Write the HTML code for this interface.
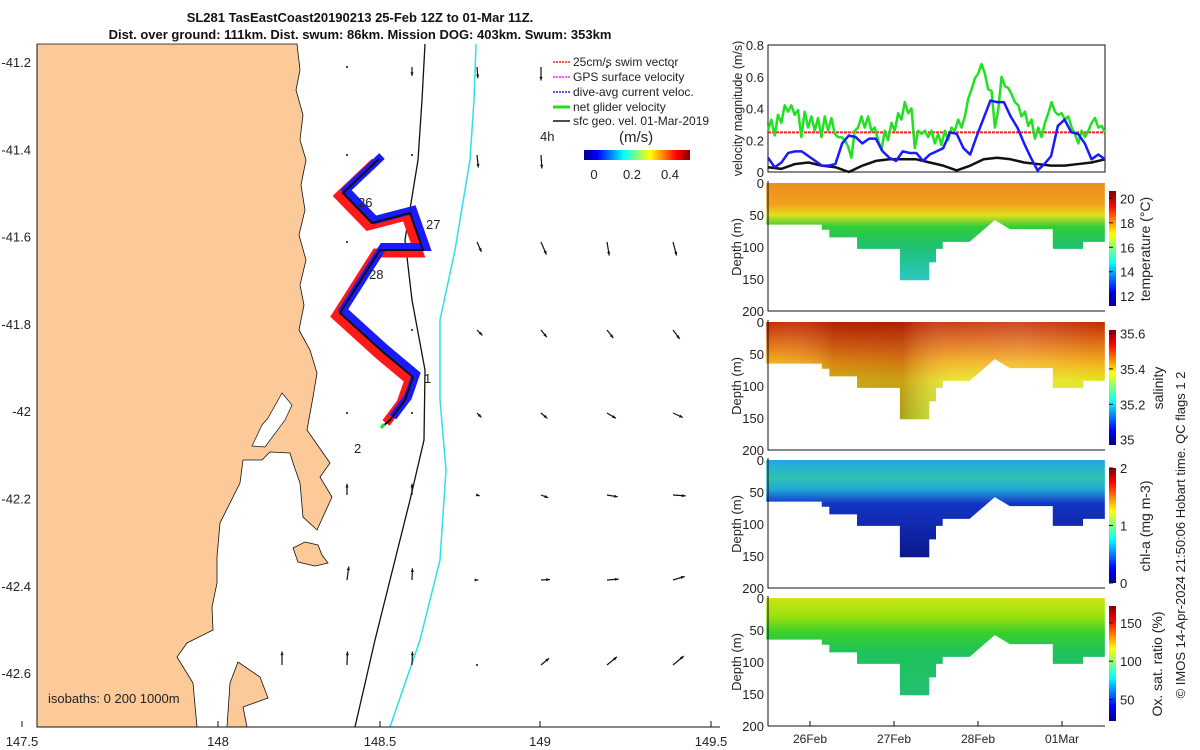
<!DOCTYPE html>
<html><head><meta charset="utf-8"><style>
html,body{margin:0;padding:0;background:#fff;}
svg{display:block;font-family:"Liberation Sans",sans-serif;}
text{font-size:12px;fill:#222;}
</style></head><body>
<svg id="fig" width="1200" height="750" viewBox="0 0 1200 750">
<defs>
<linearGradient id="jetV" x1="0" y1="1" x2="0" y2="0">
<stop offset="0" stop-color="#00008f"/><stop offset="0.125" stop-color="#0000ff"/><stop offset="0.375" stop-color="#00ffff"/><stop offset="0.625" stop-color="#ffff00"/><stop offset="0.875" stop-color="#ff0000"/><stop offset="1" stop-color="#800000"/>
</linearGradient>
<linearGradient id="jetH" x1="0" y1="0" x2="1" y2="0">
<stop offset="0" stop-color="#00008f"/><stop offset="0.125" stop-color="#0000ff"/><stop offset="0.375" stop-color="#00ffff"/><stop offset="0.625" stop-color="#ffff00"/><stop offset="0.875" stop-color="#ff0000"/><stop offset="1" stop-color="#800000"/>
</linearGradient>
<linearGradient id="gTemp" x1="0" y1="0" x2="0" y2="1">
<stop offset="0" stop-color="#ea8d1e"/><stop offset="0.22" stop-color="#f3a21c"/><stop offset="0.33" stop-color="#e3df1c"/><stop offset="0.45" stop-color="#30cc3a"/><stop offset="0.65" stop-color="#1fc070"/><stop offset="1" stop-color="#2cc8c4"/>
</linearGradient>
<linearGradient id="gSal" x1="0" y1="0" x2="0" y2="1">
<stop offset="0" stop-color="#c42a06"/><stop offset="0.25" stop-color="#e27818"/><stop offset="0.42" stop-color="#f3b018"/><stop offset="0.6" stop-color="#e6e41e"/><stop offset="1" stop-color="#bde82a"/>
</linearGradient>
<linearGradient id="gChl" x1="0" y1="0" x2="0" y2="1">
<stop offset="0" stop-color="#1fa6ea"/><stop offset="0.18" stop-color="#2ec4b0"/><stop offset="0.3" stop-color="#24a8d8"/><stop offset="0.45" stop-color="#1434c4"/><stop offset="1" stop-color="#0a188e"/>
</linearGradient>
<linearGradient id="gOxy" x1="0" y1="0" x2="0" y2="1">
<stop offset="0" stop-color="#cbe612"/><stop offset="0.2" stop-color="#96e010"/><stop offset="0.35" stop-color="#3ccf2a"/><stop offset="0.55" stop-color="#1fc35a"/><stop offset="1" stop-color="#20c070"/>
</linearGradient>
<linearGradient id="hvar" x1="0" y1="0" x2="1" y2="0">
<stop offset="0" stop-color="#fff" stop-opacity="0"/><stop offset="0.2" stop-color="#800000" stop-opacity="0.25"/><stop offset="0.4" stop-color="#800000" stop-opacity="0.3"/><stop offset="0.55" stop-color="#fff" stop-opacity="0.1"/><stop offset="0.75" stop-color="#fff" stop-opacity="0.15"/><stop offset="1" stop-color="#fff" stop-opacity="0"/>
</linearGradient>
</defs>

<!-- MAP -->
<g>
<rect x="37" y="44" width="683" height="683" fill="#fff"/>
<path fill="#fbca98" stroke="#111" stroke-width="0.8"
 d="M37,44 L297,44 L300,70 L296,90 L303,115 L300,140 L306,160 L301,185 L305,210 L299,235 L306,260 L300,285 L304,305 L299,330 L310,350 L317,373 L313,397 L307,430 L330,463 L320,477 L332,497 L317,530 L303,517 L300,483 L293,463 L290,453 L270,452 L262,460 L243,460 L240,483 L220,523 L217,557 L217,583 L212,607 L213,630 L187,643 L177,657 L193,683 L197,727 L37,727 Z"/>
<path fill="#fff" stroke="#111" stroke-width="0.7" d="M282,393 L292,405 L285,420 L265,447 L252,446 L262,425 L268,418 Z"/>
<path fill="#fbca98" stroke="#111" stroke-width="0.8" d="M227,727 L230,683 L238,662 L260,677 L268,698 L243,707 L247,727 Z"/>
<path fill="#fbca98" stroke="#111" stroke-width="0.8" d="M293,548 L305,542 L318,545 L322,555 L328,563 L315,566 L298,562 Z"/>
<path fill="none" stroke="#111" stroke-width="1.3" d="M425,44 L422,100 L418,160 L405,240 L412,300 L425,370 L424,440 L410,500 L395,560 L375,640 L355,727"/>
<path fill="none" stroke="#2ee0e8" stroke-width="1.5" d="M476,44 L474,100 L470,160 L455,250 L440,320 L440,400 L446,470 L440,560 L420,640 L390,727"/>
<g id="quiver"></g>
<g fill="none" stroke-linejoin="miter" stroke-linecap="butt">
<path stroke="#ff1a1a" stroke-width="9" transform="translate(-4,3)" d="M379,159 L343,193 L372,223 L410,213 L423,250 L380,250 L340,313 L383,352 L413,377 L405,400 L390,420"/>
<path stroke="#1a1aff" stroke-width="8" transform="translate(3,-3)" d="M379,159 L343,193 L372,223 L410,213 L423,250 L380,250 L340,313 L383,352 L413,377 L405,400 L390,420"/>
<path stroke="#111" stroke-width="2" d="M379,159 L343,193 L372,223 L410,213 L423,250 L380,250 L340,313 L383,352 L413,377 L405,400 L390,420 L382,427"/>
<path stroke="#22e022" stroke-width="3" d="M384,424 L381,428"/>
</g>
<text x="358" y="207" style="font-size:13px">26</text>
<text x="426" y="229" style="font-size:13px">27</text>
<text x="369" y="279" style="font-size:13px">28</text>
<text x="424" y="383" style="font-size:13px">1</text>
<text x="354" y="453" style="font-size:13px">2</text>
<text x="48" y="703" style="font-size:13px">isobaths: 0   200  1000m</text>
<polyline points="37,44 37,727 720,727" fill="none" stroke="#111" stroke-width="1"/>
<g>
<line x1="553" y1="62" x2="570" y2="62" stroke="#ff2020" stroke-width="1.5" stroke-dasharray="2,1"/><text x="573" y="66">25cm/s swim vector</text>
<line x1="553" y1="77" x2="570" y2="77" stroke="#ff20ff" stroke-width="1.5" stroke-dasharray="2,1"/><text x="573" y="81">GPS surface velocity</text>
<line x1="553" y1="92" x2="570" y2="92" stroke="#2020ff" stroke-width="1.5" stroke-dasharray="2,1"/><text x="573" y="96">dive-avg current veloc.</text>
<line x1="553" y1="107" x2="570" y2="107" stroke="#20e020" stroke-width="3"/><text x="573" y="111">net glider velocity</text>
<line x1="553" y1="121" x2="570" y2="121" stroke="#111" stroke-width="1.5"/><text x="573" y="125">sfc geo. vel. 01-Mar-2019</text>
<text x="540" y="141" style="font-size:13px">4h</text>
<text x="619" y="142" style="font-size:15px">(m/s)</text>
<rect x="584" y="150" width="106" height="10" fill="url(#jetH)"/>
<text x="594" y="179" text-anchor="middle" style="font-size:13px">0</text><text x="632" y="179" text-anchor="middle" style="font-size:13px">0.2</text><text x="670" y="179" text-anchor="middle" style="font-size:13px">0.4</text>
</g>
</g>
<text x="360" y="22" text-anchor="middle" style="font-size:13px;font-weight:bold;fill:#111">SL281 TasEastCoast20190213 25-Feb 12Z to 01-Mar 11Z.</text>
<text x="360" y="39" text-anchor="middle" style="font-size:13px;font-weight:bold;fill:#111">Dist. over ground: 111km. Dist. swum: 86km. Mission DOG: 403km. Swum: 353km</text>

<!-- RIGHT PANELS -->
<rect x="728" y="0" width="472" height="750" fill="#fff"/>
<g id="mapAxes"></g>
<g id="vel"></g>
<g id="sections"></g>
<text transform="translate(1185,535) rotate(-90)" text-anchor="middle" style="font-size:13px">© IMOS 14-Apr-2024 21:50:06 Hobart time. QC flags 1  2</text>
</svg>
<script>
// ---- velocity chart data ----
const velStart = 25.5, velEnd = 29.51;
const netGlider = [0.26,0.33,0.23,0.36,0.31,0.42,0.38,0.42,0.36,0.39,0.22,0.38,0.28,0.35,0.26,0.34,0.22,0.35,0.26,0.34,0.24,0.22,0.22,0.20,0.16,0.09,0.26,0.28,0.35,0.28,0.35,0.26,0.28,0.20,0.14,0.26,0.20,0.31,0.26,0.37,0.33,0.44,0.37,0.40,0.15,0.26,0.24,0.26,0.22,0.26,0.18,0.24,0.17,0.26,0.20,0.28,0.26,0.33,0.28,0.35,0.46,0.52,0.59,0.62,0.68,0.62,0.52,0.51,0.28,0.39,0.60,0.54,0.53,0.49,0.44,0.42,0.35,0.38,0.29,0.33,0.21,0.28,0.22,0.31,0.37,0.44,0.38,0.36,0.37,0.33,0.35,0.28,0.24,0.18,0.26,0.22,0.26,0.31,0.34,0.28,0.29,0.25];
const diveAvg = [0.09,0.03,0.06,0.12,0.13,0.13,0.10,0.07,0.04,0.04,0.05,0.18,0.23,0.22,0.18,0.21,0.21,0.13,0.09,0.07,0.13,0.12,0.12,0.07,0.11,0.13,0.15,0.25,0.24,0.15,0.11,0.23,0.34,0.45,0.44,0.44,0.35,0.28,0.18,0.09,0.01,0.05,0.10,0.29,0.33,0.25,0.24,0.18,0.08,0.11,0.08];
const sfcGeo = [0.03,0.02,0.05,0.06,0.04,0.03,0.00,0.04,0.07,0.08,0.08,0.08,0.06,0.04,0.01,0.04,0.08,0.09,0.08,0.06,0.05,0.04,0.04,0.05,0.06,0.08];
const swimRef = [0.25];
const velTicks = [0,0.2,0.4,0.6,0.8];
// ---- section data ----
const bottomDay = [25.48,26.14,26.14,26.23,26.23,26.56,26.56,27.07,27.07,27.42,27.42,27.5,27.5,27.58,27.58,27.9,28.2,28.38,28.89,28.89,29.25,29.25,29.51];
const bottomDepth = [65,65,73,73,85,85,103,103,152,152,124,124,103,103,92,92,58,72,72,103,103,92,92];
const depthTicks = [0,50,100,150,200];
const dayTicks = [26,27,28,29];
const dayLabels = ['26Feb','27Feb','28Feb','01Mar'];
const panels = [
 {name:'temperature', top:183, fill:'gTemp', label:'temperature (°C)', cmin:11.2, cmax:20.6, ticks:[12,14,16,18,20]},
 {name:'salinity', top:322, fill:'gSal', label:'salinity', cmin:34.97, cmax:35.62, ticks:[35,35.2,35.4,35.6]},
 {name:'chl-a', top:460, fill:'gChl', label:'chl-a (mg m-3)', cmin:0, cmax:2, ticks:[0,1,2]},
 {name:'oxygen', top:598, fill:'gOxy', label:'Ox. sat. ratio (%)', cmin:22, cmax:172, ticks:[50,100,150]}
];
// ---- quiver data (m/s) ----
const qCols = [282,347,412,477,541,607,673];
const qRows = [67,155,242,330,413,495,580,665];
const qU = [
 [0,0,0,0.02,0,0,0],
 [0,0,0,0.03,0.02,0,0],
 [0,0,0,0.1,0.12,0.05,0.08],
 [0,0,0,0.12,0.13,0.14,0.15],
 [0,0,0,0.1,0.14,0.2,0.22],
 [0,0,0,0.06,0.16,0.24,0.28],
 [0,0.04,0.01,0.03,0.2,0.26,0.26],
 [0,0.01,0.01,0.02,0.18,0.22,0.24]];
const qV = [
 [0,0,-0.2,-0.25,-0.3,0,0],
 [0,0,0,-0.28,-0.3,0,0],
 [0,0,0,-0.22,-0.28,-0.3,-0.3],
 [0,0,0,-0.12,-0.16,-0.18,-0.2],
 [0,0,0,-0.1,-0.12,-0.12,-0.1],
 [0,0.25,0.25,-0.02,-0.06,-0.04,-0.02],
 [0,0.3,0.26,0,0.01,0.02,0.08],
 [0.3,0.3,0.3,0,0.15,0.18,0.2]];

const NS='http://www.w3.org/2000/svg';
function mk(tag, attrs, parent, txt){const e=document.createElementNS(NS,tag);for(const k in attrs)e.setAttribute(k,attrs[k]);if(txt!==undefined)e.textContent=txt;parent.appendChild(e);return e;}

// quiver
const qg=document.getElementById('quiver');
qRows.forEach((y,i)=>qCols.forEach((x,j)=>{
 const u=qU[i][j], v=qV[i][j]; const s=45;
 const x2=x+u*s, y2=y-v*s;
 const len=Math.hypot(x2-x,y2-y);
 if(len<1){ if(j>0){const d=mk('circle',{cx:x,cy:y,r:1,fill:'#111'},qg);
 
 } return;}
 const l=mk('line',{x1:x,y1:y,x2:x2,y2:y2,stroke:'#111','stroke-width':1.2},qg);
 
 
 const a=Math.atan2(y2-y,x2-x);
 const p=[[x2,y2],[x2-4*Math.cos(a-0.4),y2-4*Math.sin(a-0.4)],[x2-4*Math.cos(a+0.4),y2-4*Math.sin(a+0.4)]];
 const h=mk('polygon',{points:p.map(q=>q.join(',')).join(' '),fill:'#111'},qg);
 
 
}));

// map axes
const ma=document.getElementById('mapAxes');
const latTicks=[-41.2,-41.4,-41.6,-41.8,-42,-42.2,-42.4,-42.6];
const latY=v=>62+(-41.2-v)/0.2*87.3;
latTicks.forEach(v=>{const t=mk('text',{x:31,y:latY(v)+5,'text-anchor':'end',style:'font-size:13px'},ma,String(v));
 
 });
const lonTicks=['147.5','148','148.5','149','149.5'];
const lonX=[22,218,380,540,711];
lonTicks.forEach((v,i)=>{const t=mk('text',{x:lonX[i],y:746,'text-anchor':'middle',style:'font-size:13px'},ma,v);
 
 
 mk('line',{x1:lonX[i],y1:727,x2:lonX[i],y2:721,stroke:'#111'},ma);});

// velocity chart
const vg=document.getElementById('vel');
const VX0=768,VX1=1105,VY0=172,VY1=45;
const vx=d=>VX0+(d-velStart)/(velEnd-velStart)*(VX1-VX0);
const vy=v=>VY0-(v/0.8)*(VY0-VY1);
mk('rect',{x:VX0,y:VY1,width:VX1-VX0,height:VY0-VY1,fill:'#fff',stroke:'#111'},vg);
velTicks.forEach(t=>{const e=mk('text',{x:VX0-4,y:vy(t)+5,'text-anchor':'end',style:'font-size:13px'},vg,String(t));
 
 });
const yl=mk('text',{transform:`translate(742,${(VY0+VY1)/2}) rotate(-90)`,'text-anchor':'middle',style:'font-size:12.5px'},vg,'velocity magnitude (m/s)');


function series(arr,color,w,name,dash){
 const pts=arr.map((v,i)=>[vx(velStart+i/(arr.length-1)*(velEnd-velStart)),vy(v)]);
 const p=mk('polyline',{points:pts.map(q=>q.join(',')).join(' '),fill:'none',stroke:color,'stroke-width':w,'stroke-linejoin':'round'},vg);
 if(dash)p.setAttribute('stroke-dasharray',dash);
 
 
}
const sw=mk('line',{x1:VX0,x2:VX1,y1:vy(swimRef[0]),y2:vy(swimRef[0]),stroke:'#ff2020','stroke-width':2,'stroke-dasharray':'3,1'},vg);


series(sfcGeo,'#111',2.5,'sfc-geo-velocity-line');
series(netGlider,'#22e022',2.5,'net-glider-velocity-line');
series(diveAvg,'#1a1aff',2.5,'dive-avg-current-line');

// sections
const sg=document.getElementById('sections');
const dx=d=>768+(d-25.5)*84;
panels.forEach((p,pi)=>{
 const H=128; const dy=v=>p.top+v/200*H;
 const g=mk('g',{},sg);
 
 
 const pts=[[dx(bottomDay[0]),dy(0)]].concat(bottomDay.map((d,i)=>[dx(d),dy(bottomDepth[i])])).concat([[dx(bottomDay[bottomDay.length-1]),dy(0)]]);
 const ptsStr=pts.map(q=>q.join(',')).join(' ');
 const poly=mk('polygon',{points:ptsStr,fill:`url(#${p.fill})`},g);
 
 
 if(p.name==='salinity'){const ov=mk('polygon',{points:ptsStr,fill:'url(#hvar)'},g);
  
  }
 mk('polyline',{points:`768,${p.top-2} 768,${p.top+H} 1105,${p.top+H}`,fill:'none',stroke:'#111'},g);
 depthTicks.forEach(t=>{const e=mk('text',{x:764,y:dy(t)+5,'text-anchor':'end',style:'font-size:13px'},g,String(t));
  
  });
 const dl=mk('text',{transform:`translate(741,${p.top+H/2}) rotate(-90)`,'text-anchor':'middle',style:'font-size:13px'},g,'Depth (m)');
 
 
 const cb0=p.top+8, cb1=p.top+123;
 const cb=mk('rect',{x:1109,y:cb0,width:7,height:cb1-cb0,fill:'url(#jetV)'},g);
 
 
 const cy=v=>cb1-(v-p.cmin)/(p.cmax-p.cmin)*(cb1-cb0);
 p.ticks.forEach(t=>{mk('line',{x1:1109,x2:1113,y1:cy(t),y2:cy(t),stroke:'#111'},g);
  const e=mk('text',{x:1120,y:cy(t)+5,style:'font-size:13px'},g,String(t));
  
  });
 const lx = p.name==='temperature'?1150: p.name==='salinity'?1163 : p.name==='chl-a'?1150:1162;
 const lb=mk('text',{transform:`translate(${lx},${p.top+66}) rotate(-90)`,'text-anchor':'middle',style:'font-size:14px'},g,p.label);
 
 
 if(pi===3){
  dayTicks.forEach((d,i)=>{mk('line',{x1:dx(d),x2:dx(d),y1:p.top+H,y2:p.top+H-5,stroke:'#111'},g);
   const e=mk('text',{x:dx(d),y:p.top+H+17,'text-anchor':'middle'},g,dayLabels[i]);
   
   });
 }
});
</script>
</body></html>
